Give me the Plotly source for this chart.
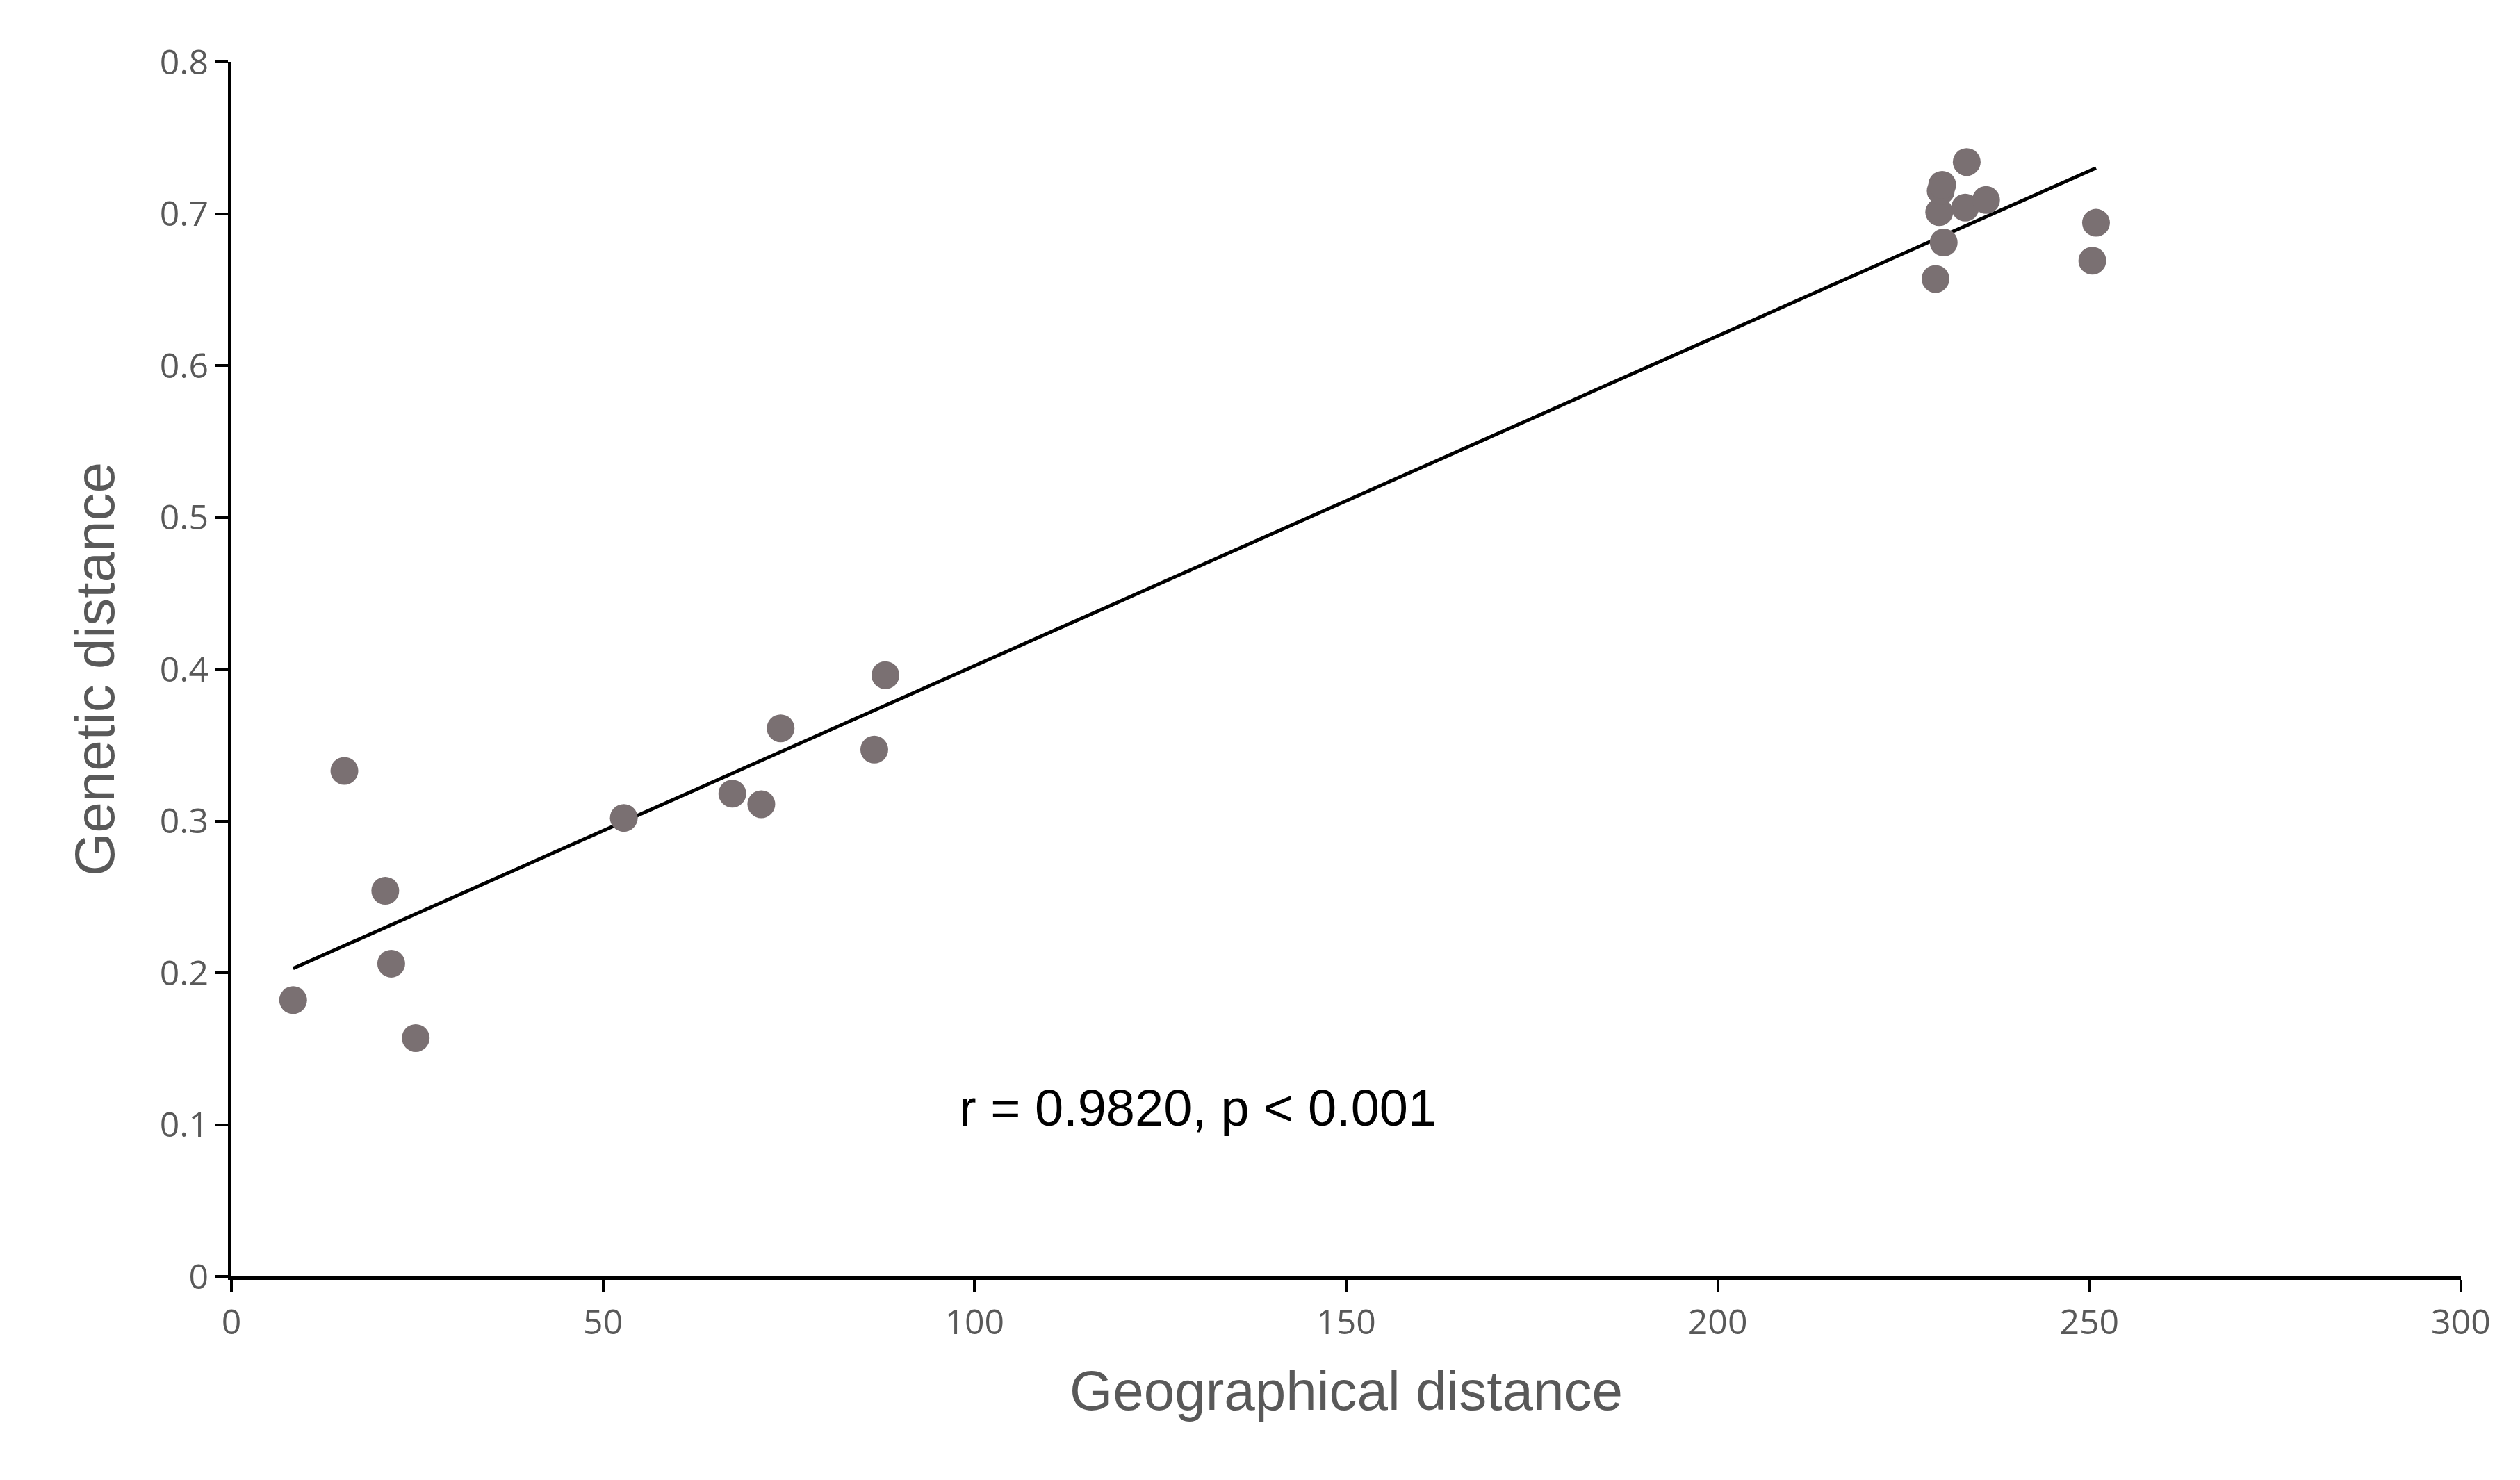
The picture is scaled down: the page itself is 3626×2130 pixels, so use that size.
import numpy as np
import plotly.graph_objects as go

# data
geo_dist = [8.3, 15.2, 20.7, 21.5, 24.8, 52.8, 67.4, 71.3, 73.9, 86.5, 88.0,
            229.3, 230.4, 229.8, 230.0, 230.2, 233.5, 233.3, 236.1, 250.4, 250.9]
gen_dist = [0.182, 0.333, 0.254, 0.206, 0.157, 0.302, 0.318, 0.311, 0.361, 0.347, 0.396,
            0.657, 0.681, 0.701, 0.715, 0.719, 0.734, 0.704, 0.709, 0.669, 0.694]

# linear fit
slope, intercept = np.polyfit(geo_dist, gen_dist, 1)
fit_x = [min(geo_dist), max(geo_dist)]
fit_y = [slope * v + intercept for v in fit_x]

tick_font = dict(family="Open Sans, Liberation Sans, sans-serif", size=50, color="#595959")

fig = go.Figure()
fig.add_trace(go.Scatter(
    x=fit_x, y=fit_y, mode="lines",
    line=dict(color="black", width=5), showlegend=False
))
fig.add_trace(go.Scatter(
    x=geo_dist, y=gen_dist, mode="markers",
    marker=dict(size=40, color="#7a7072"), showlegend=False
))

fig.add_annotation(
    x=130, y=0.111, xref="x", yref="y", showarrow=False,
    text="r = 0.9820, p < 0.001",
    font=dict(family="Liberation Sans, Arial, sans-serif", size=74, color="black")
)

fig.update_xaxes(
    range=[0, 300], dtick=50, showgrid=False, zeroline=False,
    showline=True, linecolor="black", linewidth=5,
    ticks="outside", ticklen=18, tickwidth=4, tickcolor="black",
    tickfont=tick_font,
    title=dict(text="Geographical distance",
               font=dict(family="Liberation Sans, Arial, sans-serif", size=80, color="#595959"),
               standoff=40)
)
fig.update_yaxes(
    range=[0, 0.8], dtick=0.1, tickformat="~g", showgrid=False, zeroline=False,
    showline=True, linecolor="black", linewidth=5,
    ticks="outside", ticklen=18, tickwidth=4, tickcolor="black",
    tickfont=tick_font,
    title=dict(text="Genetic distance",
               font=dict(family="Liberation Sans, Arial, sans-serif", size=80, color="#595959"),
               standoff=40)
)

fig.update_layout(
    width=3626, height=2130,
    margin=dict(l=325, r=93, t=81, b=301),
    plot_bgcolor="white", paper_bgcolor="white"
)

fig.write_html("out.html")
